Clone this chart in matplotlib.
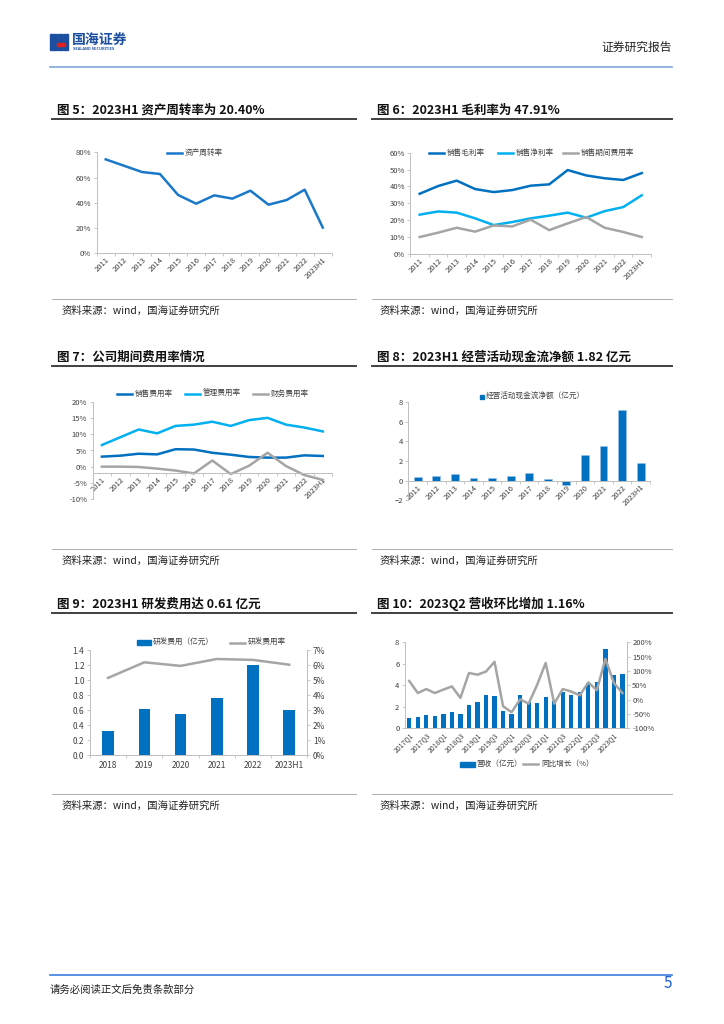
import matplotlib
matplotlib.use("Agg")
import matplotlib.pyplot as plt
import matplotlib.patches as patches
from matplotlib.lines import Line2D
from matplotlib.ticker import FuncFormatter, FixedLocator

plt.rcParams["font.family"] = ["Noto Sans CJK SC", "DejaVu Sans"]

W, H = 724, 1024

# ---- data ----
years = ["2011", "2012", "2013", "2014", "2015", "2016", "2017", "2018",
         "2019", "2020", "2021", "2022", "2023H1"]
turnover = [74.4, 69.4, 64.4, 62.8, 46.2, 39.3, 45.9, 43.3, 49.6, 38.5, 42.2, 50.4, 20.4]

gross_margin = [35.6, 40.2, 43.4, 38.4, 36.6, 37.8, 40.4, 41.2, 49.7, 46.5, 44.8, 43.8, 47.9]
net_margin = [23.2, 25.1, 24.4, 21.0, 17.0, 18.8, 21.0, 22.6, 24.4, 21.4, 25.3, 27.7, 34.7]
period_exp = [9.9, 12.5, 15.4, 13.1, 16.8, 16.2, 20.2, 14.0, 18.0, 21.8, 15.4, 12.9, 9.9]

sales_exp = [3.1, 3.4, 4.0, 3.8, 5.4, 5.3, 4.3, 3.7, 3.0, 2.8, 2.8, 3.5, 3.3]
admin_exp = [6.7, 9.1, 11.5, 10.3, 12.6, 13.0, 13.9, 12.6, 14.4, 15.1, 13.0, 12.1, 10.9]
fin_exp = [0.0, 0.0, -0.1, -0.6, -1.2, -2.1, 1.9, -2.3, 0.3, 4.3, 0.2, -2.6, -4.1]

cashflow = [0.40, 0.50, 0.70, 0.30, 0.30, 0.50, 0.75, 0.20, -0.47, 2.60, 3.55, 7.20, 1.82]

rd_years = ["2018", "2019", "2020", "2021", "2022", "2023H1"]
rd_exp = [0.32, 0.62, 0.55, 0.77, 1.21, 0.61]
rd_ratio = [5.16, 6.20, 5.96, 6.42, 6.36, 6.04]

quarters = ["2017Q1", "2017Q2", "2017Q3", "2017Q4", "2018Q1", "2018Q2", "2018Q3", "2018Q4",
            "2019Q1", "2019Q2", "2019Q3", "2019Q4", "2020Q1", "2020Q2", "2020Q3", "2020Q4",
            "2021Q1", "2021Q2", "2021Q3", "2021Q4", "2022Q1", "2022Q2", "2022Q3", "2022Q4",
            "2023Q1", "2023Q2"]
revenue = [0.99, 1.09, 1.27, 1.18, 1.33, 1.55, 1.33, 2.17, 2.48, 3.07, 3.04, 1.64, 1.30,
           3.07, 2.45, 2.39, 2.95, 2.50, 3.41, 3.07, 3.38, 4.25, 4.30, 7.41, 5.00, 5.06]
rev_yoy = [65, 23, 37, 23, 35, 46, 6, 93, 87, 98, 132, -23, -44,
           1, -14, 52, 128, -14, 37, 28, 15, 60, 33, 142, 58, 23]

DARK = "#0070C0"
LIGHT = "#00B0F0"
GRAY = "#A5A5A5"
AXC = "#BFBFBF"
TXT = "#404040"

fig = plt.figure(figsize=(7.24, 10.24), dpi=100)


def fx(x):
    return x / W


def fy(y):
    return 1 - y / H


def ax_at(x0, y0, x1, y1):
    return fig.add_axes([fx(x0), fy(y1), fx(x1) - fx(x0), fy(y0) - fy(y1)])


def hline(x0, x1, y, color, lw):
    fig.add_artist(Line2D([fx(x0), fx(x1)], [fy(y), fy(y)], transform=fig.transFigure,
                          color=color, lw=lw))


def leg_line(x, y, color, label):
    fig.add_artist(Line2D([fx(x), fx(x + 15)], [fy(y), fy(y)], transform=fig.transFigure,
                          color=color, lw=1.8))
    fig.text(fx(x + 18), fy(y), label, fontsize=5.5, color=TXT, va="center")


def leg_box(x, y, color, label, w=14, h=5):
    fig.add_artist(patches.Rectangle((fx(x), fy(y + h / 2)), w / W, h / H,
                                     transform=fig.transFigure, color=color))
    fig.text(fx(x + w + 2), fy(y), label, fontsize=5.5, color=TXT, va="center")


def style(ax, n, cross=None):
    for s in ["top", "right"]:
        ax.spines[s].set_visible(False)
    for s in ["left", "bottom"]:
        ax.spines[s].set_color(AXC)
        ax.spines[s].set_linewidth(0.7)
    if cross is not None:
        ax.spines["bottom"].set_position(("data", cross))
    ax.set_xlim(-0.5, n - 0.5)
    ax.set_facecolor("none")


def ticks(ax, n, labels, step=1, rot=45, fs=5.5, minor=True):
    ax.set_xticks(list(range(0, n, step)))
    if rot:
        ax.set_xticklabels(labels[::step], rotation=rot, ha="right", rotation_mode="anchor")
    else:
        ax.set_xticklabels(labels[::step])
    ax.tick_params(axis="y", labelsize=5.5, colors=AXC, labelcolor=TXT, length=2, width=0.6, pad=2)
    ax.tick_params(axis="x", which="major", length=0, labelsize=fs, labelcolor=TXT, pad=2)
    if minor:
        ax.xaxis.set_minor_locator(FixedLocator([i - 0.5 for i in range(n + 1)]))
        ax.tick_params(axis="x", which="minor", length=2, color=AXC, width=0.6)


pct = FuncFormatter(lambda v, p: f"{v:.0f}%")

# ---- header ----
fig.add_artist(patches.Rectangle((fx(50), fy(50)), 7 / W, 16 / H, transform=fig.transFigure, color="#1D4FA0"))
fig.add_artist(patches.Rectangle((fx(58), fy(50)), 4 / W, 16 / H, transform=fig.transFigure, color="#1D4FA0"))
fig.add_artist(patches.Rectangle((fx(63), fy(50)), 5 / W, 16 / H, transform=fig.transFigure, color="#1D4FA0"))
fig.add_artist(patches.Rectangle((fx(57), fy(46)), 8 / W, 3 / H, transform=fig.transFigure, color="#E02020"))
fig.text(fx(72), fy(40), "国海证券", fontsize=10, weight="bold", color="#1D4FA0", va="center")
fig.text(fx(73), fy(48.5), "SEALAND SECURITIES", fontsize=2.8, weight="bold", color="#1D4FA0", va="center")
fig.text(fx(672), fy(47), "证券研究报告", fontsize=8.5, color="#222222", ha="right", va="center")
hline(50, 672, 67, "#7FA7DC", 1.2)

# ---- footer ----
hline(50, 672, 975, "#3C7FE0", 1.2)
fig.text(fx(50), fy(990), "请务必阅读正文后免责条款部分", fontsize=7.5, color="#222222", va="center")
fig.text(fx(672), fy(984), "5", fontsize=11, color="#1F5FCF", ha="right", va="center")

# ---- titles and sources ----
titles = [
    (57, 110, "图 5：2023H1 资产周转率为 20.40%"),
    (377, 110, "图 6：2023H1 毛利率为 47.91%"),
    (57, 357, "图 7：公司期间费用率情况"),
    (377, 357, "图 8：2023H1 经营活动现金流净额 1.82 亿元"),
    (57, 604, "图 9：2023H1 研发费用达 0.61 亿元"),
    (377, 604, "图 10：2023Q2 营收环比增加 1.16%"),
]
for x, y, t in titles:
    fig.text(fx(x), fy(y), t, fontsize=9, weight="bold", color="#111111", va="center")
    x0, x1 = (52, 356) if x < 300 else (372, 672)
    hline(x0, x1, y + 9, "#404040", 1.4)

for y in [311, 561, 806]:
    for x, (x0, x1) in [(62, (52, 356)), (380, (372, 672))]:
        hline(x0, x1, y - 12, "#A0A0A0", 0.6)
        fig.text(fx(x), fy(y), "资料来源：wind，国海证券研究所", fontsize=7.5, color="#222222", va="center")

n = len(years)
xs = list(range(n))

# ---- chart 5 ----
ax = ax_at(96.7, 152.3, 331.8, 253.3)
style(ax, n)
ax.plot(xs, turnover, color="#1A78C8", lw=1.8)
ax.set_ylim(0, 80)
ax.set_yticks([0, 20, 40, 60, 80])
ax.yaxis.set_major_formatter(pct)
ticks(ax, n, years)
leg_line(167, 152.5, "#1A78C8", "资产周转率")

# ---- chart 6 ----
ax = ax_at(410.4, 152.7, 651, 253.7)
style(ax, n)
ax.plot(xs, gross_margin, color=DARK, lw=1.8)
ax.plot(xs, net_margin, color=LIGHT, lw=1.8)
ax.plot(xs, period_exp, color=GRAY, lw=1.8)
ax.set_ylim(0, 60)
ax.set_yticks(range(0, 61, 10))
ax.yaxis.set_major_formatter(pct)
ticks(ax, n, years)
leg_line(429, 153, DARK, "销售毛利率")
leg_line(498, 153, LIGHT, "销售净利率")
leg_line(563, 153, GRAY, "销售期间费用率")

# ---- chart 7 ----
ax = ax_at(92.7, 402, 332, 499)
style(ax, n, cross=-1.9)
ax.plot(xs, sales_exp, color=DARK, lw=1.8)
ax.plot(xs, admin_exp, color=LIGHT, lw=1.8)
ax.plot(xs, fin_exp, color=GRAY, lw=1.8)
ax.set_ylim(-10, 20)
ax.set_yticks(range(-10, 21, 5))
ax.yaxis.set_major_formatter(pct)
ticks(ax, n, years)
leg_line(117, 394, DARK, "销售费用率")
leg_line(185, 394, LIGHT, "管理费用率")
leg_line(253, 394, GRAY, "财务费用率")

# ---- chart 8 ----
ax = ax_at(408.4, 402, 650, 500.3)
style(ax, n, cross=0)
ax.bar(xs, cashflow, width=0.42, color=DARK, edgecolor="#9DC3E6", linewidth=0.4)
ax.set_ylim(-2, 8)
ax.set_yticks(range(-2, 9, 2))
ticks(ax, n, years)
leg_box(480, 396.7, DARK, "经营活动现金流净额（亿元）", w=4, h=4)

# ---- chart 9 ----
m = len(rd_years)
rx = list(range(m))
ax = ax_at(90, 650.3, 307.3, 755.3)
style(ax, m)
ax.bar(rx, rd_exp, width=0.32, color=DARK)
ax.set_ylim(0, 1.4)
ax.set_yticks([0, 0.2, 0.4, 0.6, 0.8, 1.0, 1.2, 1.4])
ax.yaxis.set_major_formatter(FuncFormatter(lambda v, p: f"{v:.1f}"))
ticks(ax, m, rd_years, rot=0, fs=6)
ax.tick_params(axis="x", which="major", pad=4)
ax.tick_params(axis="y", labelsize=6)
ax2 = ax.twinx()
ax2.plot(rx, rd_ratio, color=GRAY, lw=1.8)
ax2.set_ylim(0, 7)
ax2.set_yticks(range(0, 8))
ax2.yaxis.set_major_formatter(pct)
for s in ["top", "left", "bottom"]:
    ax2.spines[s].set_visible(False)
ax2.spines["right"].set_color(AXC)
ax2.spines["right"].set_linewidth(0.7)
ax2.tick_params(axis="y", labelsize=6, colors=AXC, labelcolor=TXT, length=2, width=0.6, pad=2)
leg_box(137, 642.7, DARK, "研发费用（亿元）", w=14, h=5)
leg_line(230, 642.7, GRAY, "研发费用率")

# ---- chart 10 ----
k = len(quarters)
qx = list(range(k))
ax = ax_at(405, 642.3, 626.7, 728.3)
style(ax, k)
ax.bar(qx, revenue, width=0.5, color=DARK)
ax.set_ylim(0, 8)
ax.set_yticks(range(0, 9, 2))
ticks(ax, k, quarters, step=2, fs=5, minor=False)
ax2 = ax.twinx()
ax2.plot(qx, rev_yoy, color=GRAY, lw=1.8)
ax2.set_ylim(-100, 200)
ax2.set_yticks(range(-100, 201, 50))
ax2.yaxis.set_major_formatter(pct)
for s in ["top", "left", "bottom"]:
    ax2.spines[s].set_visible(False)
ax2.spines["right"].set_color(AXC)
ax2.spines["right"].set_linewidth(0.7)
ax2.tick_params(axis="y", labelsize=5.5, colors=AXC, labelcolor=TXT, length=2, width=0.6, pad=2)
leg_box(460, 764, DARK, "营收（亿元）", w=15, h=5)
leg_line(523, 764, GRAY, "同比增长（%）")

fig.savefig("out.png", dpi=100, facecolor="white")
